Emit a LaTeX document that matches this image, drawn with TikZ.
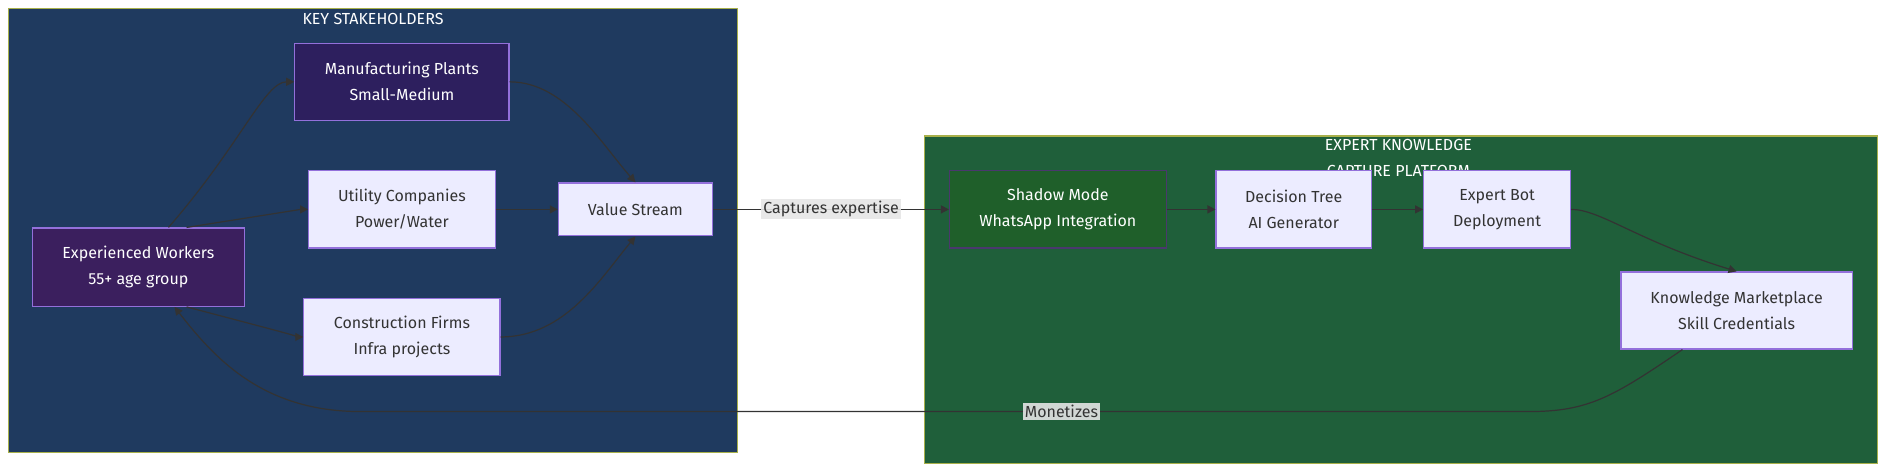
\documentclass[tikz,border=0pt]{standalone}
\usepackage{fontspec}
\setmainfont{Fira Sans}
\usetikzlibrary{arrows.meta}
\definecolor{leftbg}{HTML}{1F3A5F}
\definecolor{rightbg}{HTML}{1F5F3A}
\definecolor{clusterline}{HTML}{A8B04A}
\definecolor{darkfill}{HTML}{2D1F5E}
\definecolor{workfill}{HTML}{3B1F5E}
\definecolor{lightfill}{HTML}{ECECFF}
\definecolor{lightline}{HTML}{9370DB}
\definecolor{shadowfill}{HTML}{1F5F2A}
\definecolor{edgecol}{HTML}{333333}
\tikzset{
  box/.style={draw=lightline, fill=lightfill, line width=0.6pt, text=black!80,
    align=center, inner sep=0pt, font=\fontsize{8}{13}\selectfont},
  darkbox/.style={box, fill=darkfill, text=white},
  flow/.style={draw=edgecol, line width=0.6pt, -{Triangle[length=4pt,width=4pt]}},
  tag/.style={fill=black!10, fill opacity=0.9, text opacity=1, inner sep=1pt,
    text=black!80, font=\fontsize{8}{10}\selectfont},
  cluster/.style={draw=clusterline, line width=0.6pt}
}
\begin{document}
\begin{tikzpicture}[x=0.60175pt, y=-0.60175pt]
\useasboundingbox (0,0) rectangle (1568,393);
% clusters
\draw[cluster, fill=leftbg] (7,7) rectangle (613,376);
\node[text=white, font=\fontsize{8}{10}\selectfont] (ttlL) at (310,16) {KEY STAKEHOLDERS};
\draw[cluster, fill=rightbg] (768,113) rectangle (1560,385);
\node[text=white, align=center, font=\fontsize{8}{13}\selectfont] (ttlR) at (1162,131) {EXPERT KNOWLEDGE\\CAPTURE PLATFORM};

% stakeholder nodes
\node[darkbox, minimum width=178*0.60175pt, minimum height=64*0.60175pt] (mfg) at (334,68) {Manufacturing Plants\\Small-Medium};
\node[box, minimum width=155*0.60175pt, minimum height=64*0.60175pt] (util) at (334,174) {Utility Companies\\Power/Water};
\node[box, minimum width=163*0.60175pt, minimum height=64*0.60175pt] (cons) at (334,280) {Construction Firms\\Infra projects};
\node[darkbox, fill=workfill, minimum width=176*0.60175pt, minimum height=65*0.60175pt] (work) at (115,222) {Experienced Workers\\55+ age group};
\node[box, minimum width=128*0.60175pt, minimum height=44*0.60175pt] (value) at (528,174) {Value Stream};

% platform nodes
\node[darkbox, fill=shadowfill, draw=black!50!lightline, minimum width=180*0.60175pt, minimum height=64*0.60175pt] (shadow) at (879,174) {Shadow Mode\\WhatsApp Integration};
\node[box, minimum width=129*0.60175pt, minimum height=64*0.60175pt] (tree) at (1075,174) {Decision Tree\\AI Generator};
\node[box, minimum width=122*0.60175pt, minimum height=64*0.60175pt] (bot) at (1244,174) {Expert Bot\\Deployment};
\node[box, minimum width=192*0.60175pt, minimum height=64*0.60175pt] (market) at (1443,258) {Knowledge Marketplace\\Skill Credentials};

% connectors
\draw[flow] (work.north) ++(25,0) .. controls (200,120) and (220,68) .. (mfg.west);
\draw[flow] ([xshift=40*0.60175pt]work.north) .. controls (250,174) .. (util.west);
\draw[flow] ([xshift=40*0.60175pt]work.south) .. controls (250,280) .. (cons.west);
\draw[flow] (mfg.east) .. controls (470,68) and (500,120) .. (value.north);
\draw[flow] (util.east) -- (value.west);
\draw[flow] (cons.east) .. controls (470,280) and (500,230) .. (value.south);
\draw[flow] (value.east) -- node[tag] (lblcap) {Captures expertise} (shadow.west);
\draw[flow] (shadow.east) -- (tree.west);
\draw[flow] (tree.east) -- (bot.west);
\draw[flow] (bot.east) .. controls (1330,174) and (1360,200) .. (market.north);
\coordinate (retR) at (1270,342);
\coordinate (retL) at (300,342);
\draw[flow] ([xshift=-45*0.60175pt]market.south) .. controls (1340,330) and (1320,342) .. (retR)
  -- node[tag, pos=0.4] (lblmon) {Monetizes} (retL)
  .. controls (220,342) and (180,300) .. ([xshift=30*0.60175pt]work.south);
\end{tikzpicture}
\end{document}
